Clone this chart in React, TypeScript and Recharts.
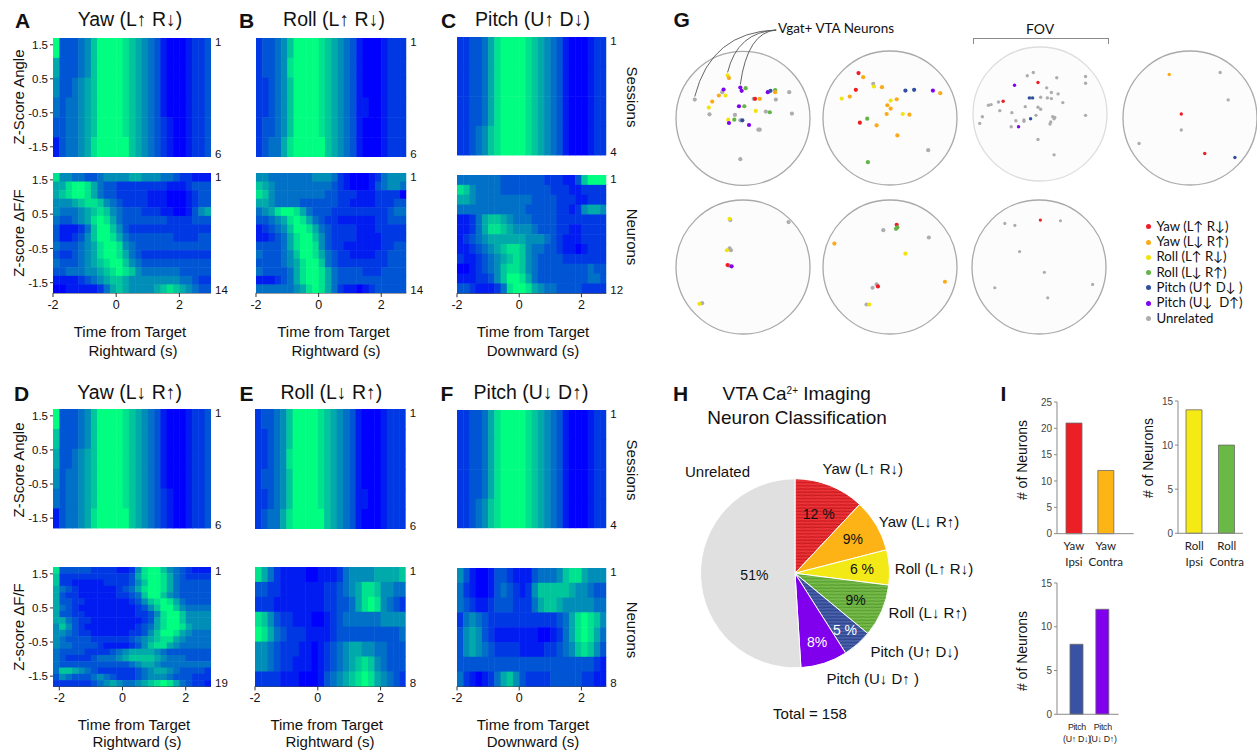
import React from 'react';
import { ScatterChart, Scatter, XAxis, YAxis, PieChart, Pie, Cell, BarChart, Bar } from 'recharts';

const ARIAL = '"Liberation Sans", Arial, Helvetica, sans-serif';
const LATO = 'Lato, "Open Sans", sans-serif';

// ---------- Heatmap data: each digit is a level 0 (blue) .. 9 (green) ----------
const A_SESS = [
  '9333457999987654310001223',
  '6333457999987654310001223',
  '5334567999987654310001223',
  '4344567999987654310001223',
  '3344567999987654321001223',
  '1344568999997654321001223',
];
const A_NEUR = [
  '8554433455556655544322111',
  '6689986433222222221112333',
  '6789986433222221110001233',
  '5556788754322221110001233',
  '5444567875433322211001356',
  '4334568986433333332222333',
  '3111247997532222222222222',
  '3112357998643333333222233',
  '4333456899854333333333333',
  '3223456899864322222222222',
  '4333456789975433333333333',
  '3344455678987544444433333',
  '1111234567765555555544322',
  '0011111246765555678765433',
];
const B_SESS = [
  '233457999987654310001222',
  '233458999987654310001222',
  '223457999987654310001222',
  '223457999987654311001222',
  '233457999987654310001222',
  '234468999997654310001222',
];
const B_NEUR = [
  '554444444555421000124555',
  '765444444444321000134554',
  '875444444443322211122220',
  '665444433333322111122233',
  '456899864333222222222344',
  '334568986432211111122333',
  '123457998643222211122222',
  '112346899753222211112222',
  '333346899853221111112233',
  '433345799864322111122333',
  '333345689974322222222333',
  '433334689986433332223333',
  '111234689986433333333333',
  '444444568986421101233333',
];
const C_SESS = [
  '223346899998765431000122',
  '223346899998765431000122',
  '223346899998765431000122',
  '223457899998765431000122',
];
const C_NEUR = [
  '444444433333332221137999',
  '875444433333333222112222',
  '665444444444333322211222',
  '444444444443333322125665',
  '112467765444333322222222',
  '112468876555433322112222',
  '123456666665554321112222',
  '112345678875443321101222',
  '211234567875433332222222',
  '001234578875433333333433',
  '111223579986433333333443',
  '332111248998654433332222',
];
const D_SESS = [
  '9333457999987654310001223',
  '7333457999987654310001223',
  '6334567999987654310001223',
  '5344567999987654310001223',
  '4344567999987654321001223',
  '1344568999997654321001223',
];
const D_NEUR = [
  '8333332222112589975432111',
  '7222222222223689986432222',
  '7221111122223579986433333',
  '6432111111234689986433333',
  '6322111111223479975433333',
  '6332211111112357898643333',
  '6432111111111235799754444',
  '6332211111111223589975555',
  '6643221111111123689975555',
  '5753211111111234689986555',
  '5543221111112235799865444',
  '5433332222223456788654444',
  '5443333211112357886544444',
  '4333322223456666543333333',
  '4322223444567777654443333',
  '4333333333334566544444444',
  '4776543222222345665433332',
  '3543334543222345554333222',
  '2222223456544567898643221',
];
const E_SESS = [
  '233457999987654310001222',
  '223457999987654310001222',
  '223458999987654310001222',
  '233457999987654310001222',
  '223457999987654311001222',
  '234468999997654310001222',
];
const E_NEUR = [
  '864211110011124555566667',
  '332211111112234568875544',
  '222111111112233468985432',
  '875322111001234444445555',
  '986432221111233333333334',
  '554322211012345665544333',
  '554322111012345678754333',
  '222211100013456789865432',
];
const F_SESS = [
  '223346899998765431000122',
  '223346899998765431000122',
  '223346899998765431000122',
  '223457899998765431000122',
];
const F_NEUR = [
  '531001332111344457886555',
  '421001343212577777655433',
  '432112333222467765555544',
  '245432222222222234689875',
  '356532111111100124689864',
  '356543222211112234578753',
  '333333333333333333333321',
  '421012467532222333332211',
];

const Z_TICKS = [1.5, 0.5, -0.5, -1.5];
const T_TICKS = [-2, 0, 2];

// ---------- Panel G: neuron positions in each field of view (x, y in radius units, category) ----------
const G_NAMES = ['Yaw (L↑ R↓)', 'Yaw (L↓ R↑)', 'Roll (L↑ R↓)', 'Roll (L↓ R↑)', 'Pitch (U↑ D↓ )', 'Pitch (U↓  D↑)', 'Unrelated'];
const G_COLORS = ['#ee1d23', '#fbaa19', '#f2e30f', '#62b446', '#2f4f9f', '#8000f0', '#adadad'];
const G1 = [
  [-0.72, 0.28, 6], [-0.23, 0.64, 2], [-0.21, 0.6, 1], [-0.04, 0.46, 5], [0.04, 0.45, 3], [-0.02, 0.41, 5],
  [-0.29, 0.43, 5], [-0.31, 0.39, 6], [-0.36, 0.34, 1], [-0.26, 0.34, 2], [-0.46, 0.25, 1], [-0.51, 0.16, 2],
  [-0.5, 0.06, 6], [-0.06, 0.18, 5], [0.02, 0.18, 3], [-0.12, 0.05, 6], [-0.22, -0.02, 2], [-0.13, -0.02, 3],
  [-0.21, -0.07, 5], [-0.04, -0.03, 6], [-0.01, -0.03, 4], [0.09, -0.1, 5], [0.16, 0.29, 6], [0.18, 0.29, 0],
  [0.25, 0.29, 1], [0.19, 0.11, 2], [0.23, -0.17, 6], [0.25, -0.17, 6], [0.34, 0.1, 6], [0.4, 0.09, 3],
  [0.37, 0.39, 5], [0.41, 0.41, 4], [0.48, 0.42, 3], [0.48, 0.39, 1], [0.49, 0.28, 6], [0.69, 0.39, 6],
  [0.73, 0.07, 6], [-0.04, -0.61, 6],
];
const G1_CALLOUT = [[-0.72, 0.28], [-0.23, 0.64], [-0.04, 0.46]];
const G2 = [
  [-0.47, 0.67, 0], [-0.4, 0.61, 1], [-0.25, 0.51, 6], [-0.24, 0.47, 2], [-0.12, 0.46, 1], [-0.51, 0.42, 0],
  [-0.6, 0.32, 1], [-0.72, 0.29, 2], [0.23, 0.41, 4], [0.36, 0.42, 4], [0.64, 0.41, 5], [0.75, 0.37, 1],
  [0.01, 0.26, 2], [0.1, 0.28, 1], [-0.04, 0.19, 1], [0.01, 0.14, 1], [-0.05, 0.06, 1], [0.19, 0.06, 2],
  [0.29, 0.05, 1], [-0.34, -0.01, 3], [-0.45, -0.07, 0], [-0.2, -0.11, 1], [0.11, -0.26, 1], [0.57, -0.48, 6],
  [-0.33, -0.66, 3],
];
const G3 = [
  [-0.19, 0.57, 6], [-0.1, 0.62, 6], [-0.03, 0.47, 0], [0.25, 0.54, 6], [0.68, 0.56, 6], [0.68, 0.46, 6],
  [-0.38, 0.43, 5], [0.1, 0.39, 6], [0.17, 0.32, 6], [0.27, 0.3, 6], [-0.14, 0.24, 6], [-0.16, 0.24, 4],
  [-0.11, 0.24, 4], [0.01, 0.25, 6], [0.11, 0.24, 6], [0.17, 0.23, 6], [0.34, 0.17, 6], [-0.62, 0.18, 6],
  [-0.55, 0.19, 0], [-0.77, 0.13, 6], [-0.73, 0.14, 6], [-0.6, 0.05, 6], [-0.22, 0.11, 6], [-0.03, 0.1, 6],
  [0.01, 0.07, 6], [-0.42, 0.02, 6], [-0.86, -0.04, 6], [-0.9, -0.14, 6], [-0.06, -0.02, 6], [-0.14, -0.07, 4],
  [-0.24, -0.09, 6], [-0.24, -0.11, 6], [-0.36, -0.1, 6], [-0.32, -0.19, 5], [-0.43, -0.19, 6], [0.19, -0.04, 6],
  [0.22, -0.05, 6], [0.21, -0.07, 6], [0.16, -0.12, 6], [0.15, -0.15, 6], [0.68, -0.02, 6], [-0.03, -0.38, 6],
  [0.21, -0.61, 6],
];
const G4 = [
  [-0.31, 0.65, 1], [0.45, 0.68, 6], [0.57, 0.27, 6], [-0.13, 0.06, 0], [-0.13, -0.18, 6], [-0.76, -0.38, 6],
  [0.22, -0.53, 0], [0.67, -0.59, 4],
];
const G5 = [
  [-0.19, 0.7, 6], [-0.2, 0.72, 2], [0.68, 0.67, 6], [-0.2, 0.28, 6], [-0.18, 0.25, 6], [-0.24, 0.25, 2],
  [-0.21, 0.02, 6], [-0.23, 0.03, 0], [-0.17, 0.01, 5], [-0.61, -0.54, 6], [-0.65, -0.55, 2],
];
const G6 = [
  [0.1, 0.63, 0], [0.09, 0.57, 3], [0.11, 0.59, 3], [-0.1, 0.55, 6], [0.58, 0.44, 6], [-0.83, 0.35, 1],
  [0.23, 0.2, 2], [0.82, -0.22, 1], [-0.2, -0.26, 6], [-0.26, -0.31, 6], [-0.18, -0.29, 0], [-0.35, -0.56, 6],
  [-0.31, -0.56, 2],
];
const G7 = [
  [-0.51, 0.65, 6], [-0.36, 0.62, 6], [0.02, 0.7, 0], [0.32, 0.69, 6], [-0.29, 0.23, 6], [0.08, -0.08, 6],
  [-0.66, -0.31, 6], [0.8, -0.26, 6], [0.13, -0.46, 6],
];

// ---------- Panel H ----------
const PIE_NAMES = ['Yaw (L↑ R↓)', 'Yaw (L↓ R↑)', 'Roll (L↑ R↓)', 'Roll (L↓ R↑)', 'Pitch (U↑ D↓)', 'Pitch (U↓ D↑ )', 'Unrelated'];
const PIE_VALUES = [12, 9, 6, 9, 5, 8, 51];
const PIE_LABELS = ['12 %', '9%', '6 %', '9%', '5 %', '8%', '51%'];
const PIE_FILLS = ['url(#hRed)', '#fdb315', '#f3e917', 'url(#hGreen)', 'url(#hBlue)', '#8000ee', '#e0e0e0'];

// ---------- Panel I ----------
const YAW_CATS = ['Yaw\nIpsi', 'Yaw\nContra'];
const YAW_COUNTS = [21, 12];
const ROLL_CATS = ['Roll\nIpsi', 'Roll\nContra'];
const ROLL_COUNTS = [14, 10];
const PITCH_CATS = ['Pitch\n(U↑ D↓)', 'Pitch\n(U↓ D↑)'];
const PITCH_COUNTS = [8, 12];

const winter = (d: number) => {
  const t = d / 9;
  return `rgb(0,${Math.round(255 * t)},${Math.round(255 - 127 * t)})`;
};

function Txt({ x, y, children, size = 15, anchor = 'middle', bold = false, rotate = 0, family = ARIAL, color = '#111' }: any) {
  const tx = anchor === 'middle' ? '-50%' : anchor === 'end' ? '-100%' : '0';
  return (
    <div
      style={{
        position: 'absolute', left: x, top: y,
        transform: `translate(${tx},-50%) rotate(${rotate}deg)`,
        fontSize: size, fontWeight: bold ? 700 : 400, fontFamily: family, color,
        whiteSpace: 'pre', lineHeight: 1,
      }}
    >
      {children}
    </div>
  );
}

function Heatmap({ x, y, w, h, rows, t0, dt, domain, showY = false, showX = false }: any) {
  const n = rows.length;
  const cells: any[] = [];
  rows.forEach((r: string, i: number) => {
    for (let j = 0; j < r.length; j++) cells.push({ t: t0 + (j + 0.5) * dt, row: i + 1, v: Number(r[j]) });
  });
  const cw = (w * dt) / (domain[1] - domain[0]);
  const ch = h / n;
  const LW = showY ? 36 : 0;
  const ML = showY ? 0 : 10;
  const RW = 24;
  const MT = 6;
  const XH = showX ? 26 : 0;
  const rt = [0.5 + 4 / ch, n + 0.5 - 3.5 / ch];
  return (
    <div style={{ position: 'absolute', left: x - LW - ML, top: y - MT }}>
      <ScatterChart width={ML + LW + w + RW} height={MT + h + XH + 2} margin={{ top: MT, right: 0, bottom: 2, left: ML }}>
        <XAxis
          type="number" dataKey="t" domain={domain} ticks={T_TICKS} allowDataOverflow hide={!showX} height={XH}
          interval={0}
          tick={{ fontSize: 12.5, fill: '#111', fontFamily: ARIAL }} tickSize={4} tickMargin={3}
          axisLine={{ stroke: '#333' }} tickLine={{ stroke: '#333' }}
        />
        {showY && (
          <YAxis
            yAxisId="z" orientation="left" type="number" domain={[-1.8, 1.7]} ticks={Z_TICKS} width={LW}
            allowDataOverflow interval={0} tick={{ fontSize: 11.5, fill: '#111', fontFamily: ARIAL }} tickSize={3} tickMargin={2}
            axisLine={false} tickLine={{ stroke: '#333' }}
          />
        )}
        <YAxis
          yAxisId="row" orientation="right" type="number" dataKey="row" domain={[0.5, n + 0.5]} reversed
          ticks={rt} width={RW} axisLine={false} tickLine={false} tickSize={0} tickMargin={4} allowDataOverflow interval={0}
          tickFormatter={(v: number) => String(Math.round(v))}
          tick={{ fontSize: 11.5, fill: '#111', fontFamily: ARIAL, textAnchor: 'start' }}
        />
        <Scatter
          yAxisId="row" data={cells} isAnimationActive={false}
          shape={(p: any) => (
            <rect x={p.cx - cw / 2} y={p.cy - ch / 2} width={cw + 0.5} height={ch + 0.5} fill={winter(p.payload.v)} />
          )}
        />
      </ScatterChart>
    </div>
  );
}

function FovCircle({ cx, cy, pts, faint = false, dot = 2.1, callout = null, anchor = null }: any) {
  const R = 67;
  const pad = 3;
  const padTop = callout ? cy - R - 20 : pad;
  const left = cx - R - pad;
  const top = cy - R - padTop;
  const data = pts
    .map((p: number[]) => ({ x: p[0], y: p[1], c: p[2] }))
    .sort((a: any, b: any) => (b.c === 6 ? 1 : 0) - (a.c === 6 ? 1 : 0));
  const ax = anchor ? anchor[0] - left : 0;
  const ay = anchor ? anchor[1] - top : 0;
  return (
    <div style={{ position: 'absolute', left, top }}>
      <ScatterChart width={2 * R + 2 * pad} height={2 * R + pad + padTop} margin={{ top: padTop, right: pad, bottom: pad, left: pad }}>
        <XAxis type="number" dataKey="x" domain={[-1, 1]} hide />
        <YAxis type="number" dataKey="y" domain={[-1, 1]} hide />
        <Scatter
          data={[{ x: 0, y: 0 }]} isAnimationActive={false}
          shape={(p: any) => (
            <circle cx={p.cx} cy={p.cy} r={R} fill="#fcfcfc" stroke={faint ? '#dddddd' : '#a9a9a9'} strokeWidth={1.3} />
          )}
        />
        {callout && (
          <Scatter
            data={callout.map((c: number[]) => ({ x: c[0], y: c[1] }))} isAnimationActive={false}
            shape={(p: any) => {
              const ex = p.cx;
              const ey = p.cy - 3;
              const qx = ex + 0.2 * (ax - ex);
              const qy = ay + 2;
              return <path d={`M${ax},${ay} Q${qx},${qy} ${ex},${ey}`} fill="none" stroke="#555" strokeWidth={0.9} />;
            }}
          />
        )}
        <Scatter
          data={data} isAnimationActive={false}
          shape={(p: any) => <circle cx={p.cx} cy={p.cy} r={dot} fill={G_COLORS[p.payload.c]} />}
        />
      </ScatterChart>
    </div>
  );
}

const RAD = Math.PI / 180;
const IN_R = [0.68, 0.71, 0.71, 0.7, 0.8, 0.76, 0.43];
const OUT_ADJ = [[-10, -10], [-4, 0], [-2, 2], [0, -1], [8, 2], [0, 8]];
function pieLabel(p: any) {
  const { cx, cy, midAngle, outerRadius, index } = p;
  const cos = Math.cos(-midAngle * RAD);
  const sin = Math.sin(-midAngle * RAD);
  const ri = outerRadius * IN_R[index];
  const ix = cx + ri * cos;
  const iy = cy + ri * sin;
  let ox: number;
  let oy: number;
  let anchor = 'start';
  if (index === 6) {
    ox = cx - 45;
    oy = cy - 101.5;
    anchor = 'end';
  } else {
    ox = cx + 102 * cos + OUT_ADJ[index][0];
    oy = cy + 102 * sin + OUT_ADJ[index][1];
  }
  return (
    <g>
      <text x={ix} y={iy} textAnchor="middle" dominantBaseline="central" fontSize={14} fontFamily={ARIAL}
        fill={index === 4 || index === 5 ? '#fff' : '#111'}>
        {PIE_LABELS[index]}
      </text>
      <text x={ox} y={oy} textAnchor={anchor} dominantBaseline="central" fontSize={15} fontFamily={ARIAL} fill="#111">
        {PIE_NAMES[index]}
      </text>
    </g>
  );
}

function hatch(id: string, base: string, dark: string, light: string) {
  return (
    <pattern id={id} width={10} height={3.2} patternUnits="userSpaceOnUse">
      <rect width={10} height={3.2} fill={base} />
      <path d="M0 1 Q2.5 0.4 5 1 T10 1" stroke={dark} strokeWidth={0.7} fill="none" />
      <path d="M0 2.5 Q2.5 3 5 2.5 T10 2.5" stroke={light} strokeWidth={0.5} fill="none" />
    </pattern>
  );
}

function BarPanel({ x, y, w, h, cats, counts, colors, max, ticks, padding, barSize, labelSize, dy1, dy2, family = LATO, spacing = 0 }: any) {
  const YW = 22;
  const MT = 8;
  const XH = 36;
  const data = cats.map((c: string, i: number) => ({ name: c, v: counts[i] }));
  const tick = (p: any) => {
    const lines = String(p.payload.value).split('\n');
    return (
      <text x={p.x} y={p.y} textAnchor="middle" fontSize={labelSize} fontFamily={family} fill="#222" letterSpacing={spacing}>
        {lines.map((l: string, i: number) => (
          <tspan key={i} x={p.x} dy={i === 0 ? dy1 : dy2}>{l}</tspan>
        ))}
      </text>
    );
  };
  return (
    <div style={{ position: 'absolute', left: x - YW, top: y - MT }}>
      <BarChart width={YW + w + 4} height={MT + h + XH} data={data} margin={{ top: MT, right: 4, bottom: 0, left: 0 }}>
        <XAxis dataKey="name" type="category" padding={padding} height={XH} tickLine={false} tickSize={0} tickMargin={0}
          axisLine={{ stroke: '#8a8a8a' }} tick={tick} interval={0} />
        <YAxis type="number" domain={[0, max]} ticks={ticks} width={YW} tickSize={3} tickMargin={2}
          axisLine={{ stroke: '#8a8a8a' }} tickLine={{ stroke: '#8a8a8a' }} interval={0}
          tick={{ fontSize: 10, fill: '#444', fontFamily: ARIAL }} />
        <Bar dataKey="v" barSize={barSize} stroke="#6a6a6a" strokeWidth={0.8} isAnimationActive={false}>
          {data.map((d: any, i: number) => <Cell key={i} fill={colors[i]} />)}
        </Bar>
      </BarChart>
    </div>
  );
}

export default function App() {
  return (
    <div style={{ position: 'absolute', left: 0, top: 0, width: 1257, height: 750, overflow: 'hidden', background: '#fff', fontFamily: ARIAL, color: '#111' }}>
      {/* ---------- Panels A-F titles ---------- */}
      <Txt x={22.5} y={20} size={21} bold>A</Txt>
      <Txt x={130} y={20} size={19.5}>Yaw (L↑ R↓)</Txt>
      <Txt x={246.5} y={19.5} size={21} bold>B</Txt>
      <Txt x={334} y={20} size={19.5}>Roll (L↑ R↓)</Txt>
      <Txt x={448.5} y={19.5} size={21} bold>C</Txt>
      <Txt x={532.5} y={20} size={19.5}>Pitch (U↑ D↓)</Txt>
      <Txt x={21.5} y={393} size={21} bold>D</Txt>
      <Txt x={129.7} y={393} size={19.5}>Yaw (L↓ R↑)</Txt>
      <Txt x={246.5} y={393} size={21} bold>E</Txt>
      <Txt x={331.3} y={393.3} size={19.5}>Roll (L↓ R↑)</Txt>
      <Txt x={447} y={393} size={21} bold>F</Txt>
      <Txt x={531} y={393.3} size={19.5}>Pitch (U↓ D↑)</Txt>

      <Txt x={18.3} y={96.7} size={15} rotate={-90}>Z-Score Angle</Txt>
      <Txt x={18.3} y={233.3} size={15} rotate={-90}>Z-score ΔF/F</Txt>
      <Txt x={18.3} y={470} size={15} rotate={-90}>Z-Score Angle</Txt>
      <Txt x={18.3} y={626.7} size={15} rotate={-90}>Z-score ΔF/F</Txt>
      <Txt x={631.7} y={96.7} size={15} rotate={90}>Sessions</Txt>
      <Txt x={631.7} y={236.7} size={15} rotate={90}>Neurons</Txt>
      <Txt x={631.7} y={470} size={15} rotate={90}>Sessions</Txt>
      <Txt x={631.7} y={630} size={15} rotate={90}>Neurons</Txt>

      <Txt x={130} y={331} size={15}>Time from Target</Txt>
      <Txt x={133} y={350} size={15}>Rightward (s)</Txt>
      <Txt x={333.5} y={331} size={15}>Time from Target</Txt>
      <Txt x={336} y={350} size={15}>Rightward (s)</Txt>
      <Txt x={533} y={331} size={15}>Time from Target</Txt>
      <Txt x={533} y={350} size={15}>Downward (s)</Txt>
      <Txt x={134} y={724} size={15}>Time from Target</Txt>
      <Txt x={137} y={741} size={15}>Rightward (s)</Txt>
      <Txt x={326.7} y={724} size={15}>Time from Target</Txt>
      <Txt x={330} y={741} size={15}>Rightward (s)</Txt>
      <Txt x={533} y={724} size={15}>Time from Target</Txt>
      <Txt x={533} y={741} size={15}>Downward (s)</Txt>

      {/* ---------- Heatmaps ---------- */}
      <Heatmap x={52.7} y={37.7} w={158} h={119} rows={A_SESS} t0={-2} dt={0.2} domain={[-2, 3]} showY />
      <Heatmap x={52.7} y={173.3} w={158} h={120} rows={A_NEUR} t0={-2} dt={0.2} domain={[-2, 3]} showY showX />
      <Heatmap x={255.7} y={37.5} w={150.3} h={119} rows={B_SESS} t0={-2} dt={0.2} domain={[-2, 2.8]} />
      <Heatmap x={255.7} y={173.3} w={150.3} h={120} rows={B_NEUR} t0={-2} dt={0.2} domain={[-2, 2.8]} showX />
      <Heatmap x={456.7} y={37.3} w={149.3} h={118.4} rows={C_SESS} t0={-2} dt={0.2} domain={[-2, 2.8]} />
      <Heatmap x={456.7} y={175} w={149.3} h={118.3} rows={C_NEUR} t0={-2} dt={0.2} domain={[-2, 2.8]} showX />
      <Heatmap x={52.7} y={409.3} w={158} h={119.4} rows={D_SESS} t0={-2.2} dt={0.2} domain={[-2.2, 2.8]} showY />
      <Heatmap x={52.7} y={567.3} w={158} h={119.4} rows={D_NEUR} t0={-2.2} dt={0.2} domain={[-2.2, 2.8]} showY showX />
      <Heatmap x={255} y={409.3} w={150.7} h={120} rows={E_SESS} t0={-2} dt={0.2} domain={[-2, 2.8]} />
      <Heatmap x={255} y={567.3} w={150.7} h={119.4} rows={E_NEUR} t0={-2} dt={0.2} domain={[-2, 2.8]} showX />
      <Heatmap x={456.7} y={410} w={149.3} h={118.3} rows={F_SESS} t0={-2} dt={0.2} domain={[-2, 2.8]} />
      <Heatmap x={456.7} y={568.3} w={149.3} h={118.4} rows={F_NEUR} t0={-2} dt={0.2} domain={[-2, 2.8]} showX />

      {/* ---------- Panel G ---------- */}
      <Txt x={681.7} y={18.5} size={21} bold>G</Txt>
      <FovCircle cx={743.3} cy={118.3} pts={G1} callout={G1_CALLOUT} anchor={[776.5, 30]} />
      <FovCircle cx={890.3} cy={118} pts={G2} />
      <FovCircle cx={1040.3} cy={114.3} pts={G3} faint dot={1.7} />
      <FovCircle cx={1190} cy={117.7} pts={G4} dot={1.7} />
      <FovCircle cx={743} cy={267.3} pts={G5} />
      <FovCircle cx={889.5} cy={266.5} pts={G6} />
      <FovCircle cx={1038.7} cy={267.3} pts={G7} dot={1.6} />
      <Txt x={778} y={29.3} size={13.5} anchor="start" family={LATO}>Vgat+ VTA Neurons</Txt>
      <Txt x={1040} y={29} size={14} family={LATO}>FOV</Txt>
      <div style={{ position: 'absolute', left: 973.3, top: 37.5, width: 134, height: 5.5, border: '1.2px solid #8a8a8a', borderBottom: 'none' }} />
      {G_NAMES.map((nm, i) => (
        <React.Fragment key={nm}>
          <div style={{ position: 'absolute', left: 1148.3 - 2.5, top: 226.7 + i * 15.3 - 2.5, width: 5, height: 5, borderRadius: '50%', background: G_COLORS[i] }} />
          <Txt x={1156.5} y={226.7 + i * 15.3} size={13.2} anchor="start" family={LATO}>{nm}</Txt>
        </React.Fragment>
      ))}

      {/* ---------- Panel H ---------- */}
      <Txt x={680.5} y={393} size={21} bold>H</Txt>
      <Txt x={796.7} y={393.3} size={19}>
        VTA Ca<sup style={{ fontSize: 10, verticalAlign: '0.55em' }}>2+</sup> Imaging
      </Txt>
      <Txt x={797} y={416.7} size={19}>Neuron Classification</Txt>
      <div style={{ position: 'absolute', left: 660, top: 440 }}>
        <PieChart width={335} height={270} margin={{ top: 0, right: 0, bottom: 0, left: 0 }}>
          <defs>
            {hatch('hRed', '#e6262b', '#b3171c', '#f0585a')}
            {hatch('hGreen', '#6bb33f', '#4b8f28', '#8fcc66')}
            {hatch('hBlue', '#3b53a0', '#263c80', '#6d82c2')}
          </defs>
          <Pie
            data={PIE_VALUES.map((v, i) => ({ name: PIE_NAMES[i], value: v }))}
            dataKey="value" cx={135} cy={133.3} outerRadius={94.5} startAngle={90} endAngle={-270}
            stroke="#fff" strokeWidth={1} label={pieLabel} labelLine={false} isAnimationActive={false}
          >
            {PIE_VALUES.map((v, i) => <Cell key={i} fill={PIE_FILLS[i]} />)}
          </Pie>
        </PieChart>
      </div>
      <Txt x={810} y={712.7} size={15}>Total = 158</Txt>

      {/* ---------- Panel I ---------- */}
      <Txt x={1003.5} y={392.5} size={21} bold>I</Txt>
      <BarPanel x={1056.7} y={401.7} w={76.7} h={131.7} cats={YAW_CATS} counts={YAW_COUNTS}
        colors={['#ec1f27', '#fdb515']} max={25} ticks={[0, 5, 10, 15, 20, 25]}
        padding={{ left: 1, right: 12 }} barSize={16} labelSize={11.5} dy1={16.5} dy2={16} />
      <BarPanel x={1178.3} y={401} w={65} h={132.3} cats={ROLL_CATS} counts={ROLL_COUNTS}
        colors={['#f6ea14', '#6ab846']} max={15} ticks={[0, 5, 10, 15]}
        padding={{ left: 0, right: 0 }} barSize={16} labelSize={11.5} dy1={16.5} dy2={16} />
      <BarPanel x={1056.7} y={582.7} w={61.7} h={131.3} cats={PITCH_CATS} counts={PITCH_COUNTS}
        colors={['#3a52a3', '#8000ee']} max={15} ticks={[0, 5, 10, 15]}
        padding={{ left: 7, right: 3 }} barSize={13} labelSize={8.8} dy1={15.5} dy2={12.5} family={ARIAL} spacing={-0.3} />
      <Txt x={1021.7} y={460} size={14} rotate={-90}># of Neurons</Txt>
      <Txt x={1148.3} y={457.5} size={14} rotate={-90}># of Neurons</Txt>
      <Txt x={1021.7} y={650.8} size={14} rotate={-90}># of Neurons</Txt>
    </div>
  );
}
